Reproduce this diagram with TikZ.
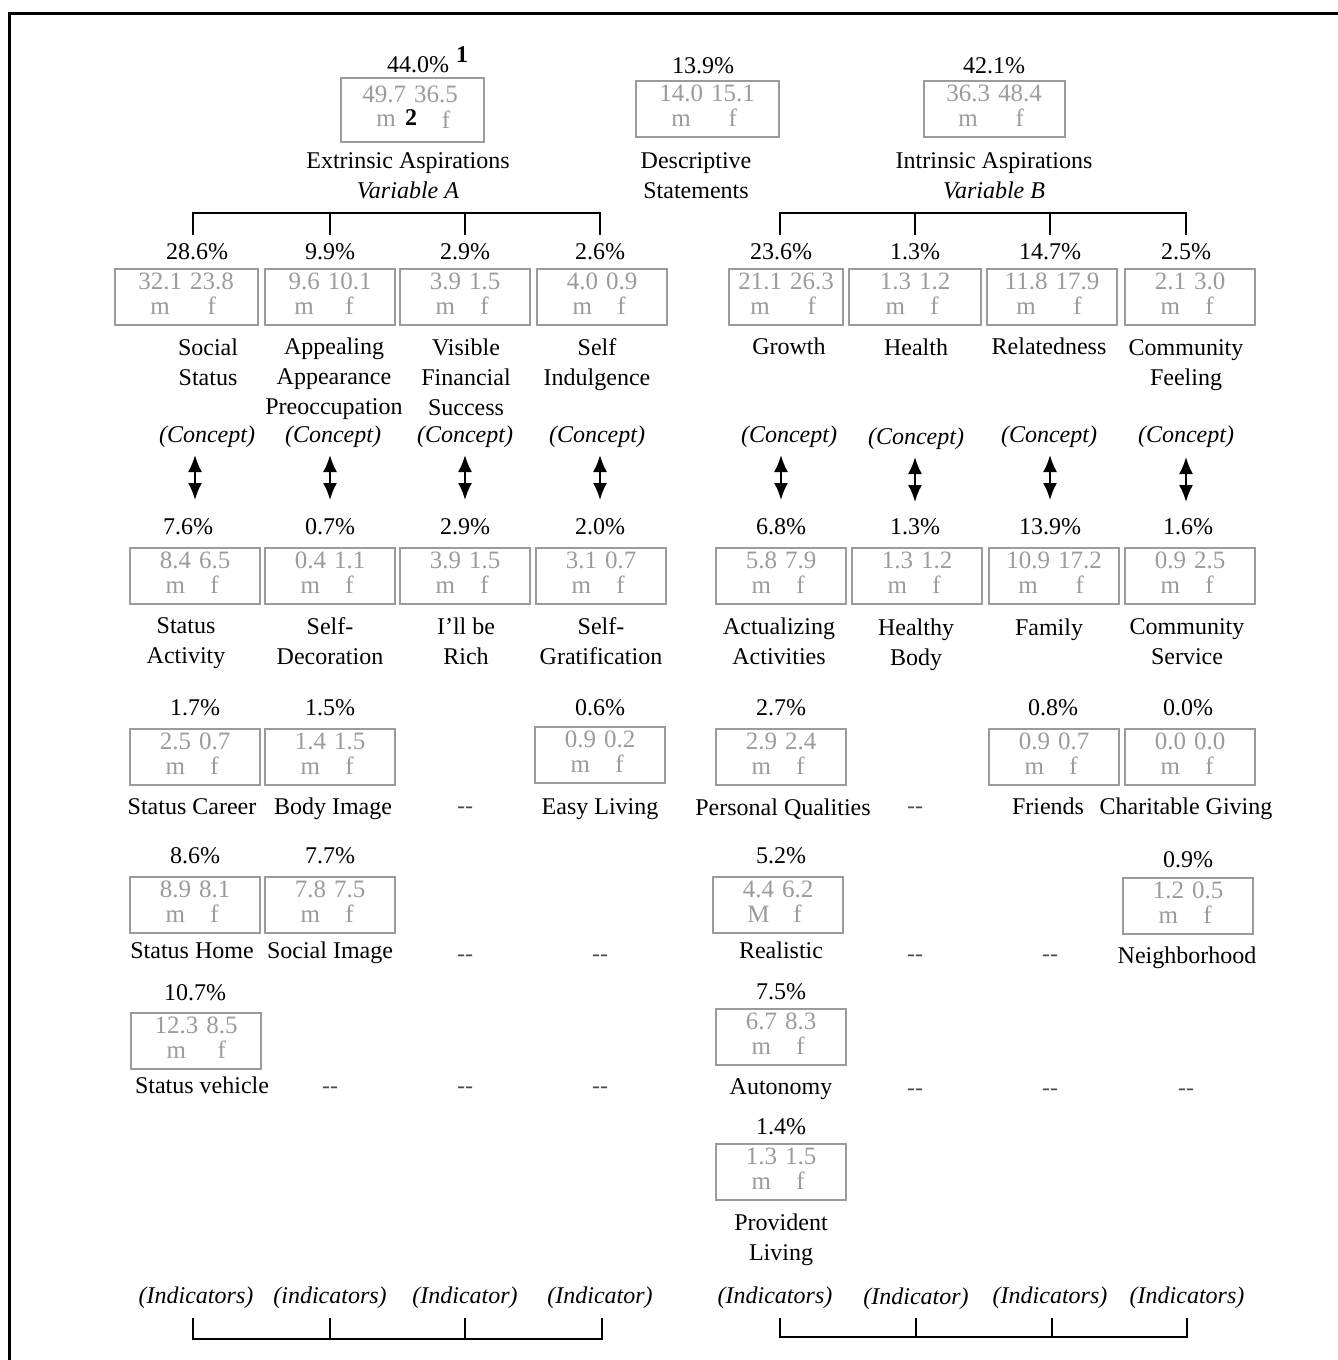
\documentclass[tikz,border=0pt]{standalone}
\usepackage{fontspec}
\setmainfont{Liberation Serif}
\usetikzlibrary{positioning, arrows.meta}
\definecolor{boxgray}{RGB}{155,155,155}
\newcommand{\mf}[3][m]{\begin{tabular}{@{}c@{\hspace{4pt}}c@{}}#2&#3\\#1&f\end{tabular}}
\renewcommand{\arraystretch}{0.8}

\begin{document}
\begin{tikzpicture}[
		x=0.5pt, y=-0.5pt,
		every node/.style={font=\fontsize{12}{15}\selectfont},
		mfbox/.style={draw=boxgray, line width=1pt, text=boxgray, font=\fontsize{12.5}{15}\selectfont, minimum width=65pt, minimum height=28pt, inner sep=0pt},
		widebox/.style={mfbox, minimum width=71.5pt},
		mftext/.style={text=boxgray, font=\fontsize{12.5}{15}\selectfont, inner sep=0pt},
		lbl/.style={align=center},
		one/.style={text height=8.5pt, text depth=2.5pt},
		cpt/.style={font=\fontsize{12}{15}\selectfont\itshape},
		nil/.style={text=black!70},
		fnote/.style={font=\fontsize{12}{15}\selectfont\bfseries, inner sep=0pt},
		dbl/.style={{Latex[width=7pt,length=8.5pt]}-{Latex[width=7pt,length=8.5pt]}, line width=1pt},
		brk/.style={line width=0.6pt},
	]
	\useasboundingbox (0,0) rectangle (1338,1360);
	\draw[line width=1.5pt] (9,1365) -- (9,13) -- (1345,13);

	% top level
	\node (extpct) at (418,65) {44.0\%};
	\node[fnote] (fn1) at (462,55) {1};
	\node[widebox, minimum height=32pt] (extbox) at (412,110) {};
	\node[mftext] (extnum) at (410,94) {49.7\hspace{4pt}36.5};
	\node[mftext] (extm) at (386,121) {m};
	\node[mftext] (extf) at (446,120) {f};
	\node[fnote] (fn2) at (411,118) {2};
	\node[lbl] (extlab) at (408,176) {Extrinsic Aspirations\\\textit{Variable A}};

	\node (despct) at (703,66) {13.9\%};
	\node[widebox] (desbox) at (707,109) {\mf{14.0}{15.1}};
	\node[lbl] (deslab) at (696,176) {Descriptive\\Statements};

	\node (intpct) at (994,66) {42.1\%};
	\node[widebox, minimum width=70.5pt] (intbox) at (994,109) {\mf{36.3}{48.4}};
	\node[lbl] (intlab) at (994,176) {Intrinsic Aspirations\\\textit{Variable B}};

	% brackets under the aspirations
	\coordinate (tA1) at (193,235);
	\coordinate (tA2) at (330,235);
	\coordinate (tA3) at (465,235);
	\coordinate (tA4) at (600,235);
	\draw[brk] (tA1) -- ++(0,-22) -| (tA4);
	\draw[brk] (tA2) -- ++(0,-22);
	\draw[brk] (tA3) -- ++(0,-22);
	\coordinate (tB1) at (780,235);
	\coordinate (tB2) at (915,235);
	\coordinate (tB3) at (1050,235);
	\coordinate (tB4) at (1186,235);
	\draw[brk] (tB1) -- ++(0,-22) -| (tB4);
	\draw[brk] (tB2) -- ++(0,-22);
	\draw[brk] (tB3) -- ++(0,-22);

	% concepts
	\node (sspct) at (197,252) {28.6\%};
	\node[widebox] (ssbox) at (186,297) {\mf{32.1}{23.8}};
	\node[lbl] (sslab) at (208,362) {Social\\Status};
	\node[cpt] (sscon) at (207,437) {(Concept)};

	\node (aapct) at (330,252) {9.9\%};
	\node[mfbox] (aabox) at (330,297) {\mf{9.6}{10.1}};
	\node[lbl] (aalab) at (334,379) {Appealing\\Appearance\\Preoccupation};
	\node[cpt] (aacon) at (333,437) {(Concept)};

	\node (vfpct) at (465,252) {2.9\%};
	\node[mfbox] (vfbox) at (465,297) {\mf{3.9}{1.5}};
	\node[lbl] (vflab) at (466,377) {Visible\\Financial\\Success};
	\node[cpt] (vfcon) at (465,437) {(Concept)};

	\node (sipct) at (600,252) {2.6\%};
	\node[mfbox] (sibox) at (602,297) {\mf{4.0}{0.9}};
	\node[lbl] (silab) at (597,365) {Self\\Indulgence};
	\node[cpt] (sicon) at (597,437) {(Concept)};

	\node (grpct) at (781,252) {23.6\%};
	\node[mfbox, minimum width=57pt] (grbox) at (786,297) {\mf{21.1}{26.3}};
	\node[one] (grlab) at (789,348) {Growth};
	\node[cpt] (grcon) at (789,437) {(Concept)};

	\node (hepct) at (915,252) {1.3\%};
	\node[mfbox, minimum width=66pt] (hebox) at (915,297) {\mf{1.3}{1.2}};
	\node[one] (helab) at (916,349) {Health};
	\node[cpt] (hecon) at (916,439) {(Concept)};

	\node (repct) at (1050,252) {14.7\%};
	\node[mfbox] (rebox) at (1052,297) {\mf{11.8}{17.9}};
	\node[one] (relab) at (1049,348) {Relatedness};
	\node[cpt] (recon) at (1049,437) {(Concept)};

	\node (cfpct) at (1186,252) {2.5\%};
	\node[mfbox] (cfbox) at (1190,297) {\mf{2.1}{3.0}};
	\node[lbl] (cflab) at (1186,365) {Community\\Feeling};
	\node[cpt] (cfcon) at (1186,437) {(Concept)};

	% concept <-> indicators
	\coordinate (ssa) at (195,455);  \coordinate (ssb) at (195,500);
	\coordinate (aaa) at (330,455);  \coordinate (aab) at (330,500);
	\coordinate (vfa) at (465,455);  \coordinate (vfb) at (465,500);
	\coordinate (sia) at (600,455);  \coordinate (sib) at (600,500);
	\coordinate (gra) at (781,455);  \coordinate (grb) at (781,500);
	\coordinate (hea) at (915,457);  \coordinate (heb) at (915,502);
	\coordinate (rea) at (1050,455); \coordinate (reb) at (1050,500);
	\coordinate (cfa) at (1186,457); \coordinate (cfb) at (1186,502);
	\draw[dbl] (ssa) -- (ssb);
	\draw[dbl] (aaa) -- (aab);
	\draw[dbl] (vfa) -- (vfb);
	\draw[dbl] (sia) -- (sib);
	\draw[dbl] (gra) -- (grb);
	\draw[dbl] (hea) -- (heb);
	\draw[dbl] (rea) -- (reb);
	\draw[dbl] (cfa) -- (cfb);

	% indicators, first row
	\node (sapct) at (188,527) {7.6\%};
	\node[mfbox] (sabox) at (195,576) {\mf{8.4}{6.5}};
	\node[lbl] (salab) at (186,643) {Status\\Activity};

	\node (sdpct) at (330,527) {0.7\%};
	\node[mfbox] (sdbox) at (330,576) {\mf{0.4}{1.1}};
	\node[lbl] (sdlab) at (330,641) {Self-\\Decoration};

	\node (irpct) at (465,527) {2.9\%};
	\node[mfbox] (irbox) at (465,576) {\mf{3.9}{1.5}};
	\node[lbl] (irlab) at (466,641) {I’ll be\\Rich};

	\node (sgpct) at (600,527) {2.0\%};
	\node[mfbox] (sgbox) at (601,576) {\mf{3.1}{0.7}};
	\node[lbl] (sglab) at (601,641) {Self-\\Gratification};

	\node (acpct) at (781,527) {6.8\%};
	\node[mfbox] (acbox) at (781,576) {\mf{5.8}{7.9}};
	\node[lbl] (aclab) at (779,641) {Actualizing\\Activities};

	\node (hbpct) at (915,527) {1.3\%};
	\node[mfbox] (hbbox) at (917,576) {\mf{1.3}{1.2}};
	\node[lbl] (hblab) at (916,645) {Healthy\\Body};

	\node (fapct) at (1050,527) {13.9\%};
	\node[mfbox] (fabox) at (1054,576) {\mf{10.9}{17.2}};
	\node[one] (falab) at (1049,629) {Family};

	\node (cspct) at (1188,527) {1.6\%};
	\node[mfbox] (csbox) at (1190,576) {\mf{0.9}{2.5}};
	\node[lbl] (cslab) at (1187,642) {Community\\Service};

	% second row
	\node (scpct) at (195,708) {1.7\%};
	\node[mfbox] (scbox) at (195,757) {\mf{2.5}{0.7}};
	\node[one] (sclab) at (192,808) {Status Career};

	\node (bipct) at (330,708) {1.5\%};
	\node[mfbox] (bibox) at (330,757) {\mf{1.4}{1.5}};
	\node[one] (bilab) at (333,808) {Body Image};

	\node[nil] (nil1) at (465,810) {-{}-};

	\node (elpct) at (600,708) {0.6\%};
	\node[mfbox] (elbox) at (600,755) {\mf{0.9}{0.2}};
	\node[one] (ellab) at (600,808) {Easy Living};

	\node (pqpct) at (781,708) {2.7\%};
	\node[mfbox] (pqbox) at (781,757) {\mf{2.9}{2.4}};
	\node[one] (pqlab) at (783,809) {Personal Qualities};

	\node[nil] (nil2) at (915,810) {-{}-};

	\node (frpct) at (1053,708) {0.8\%};
	\node[mfbox] (frbox) at (1054,757) {\mf{0.9}{0.7}};
	\node[one] (frlab) at (1048,808) {Friends};

	\node (cgpct) at (1188,708) {0.0\%};
	\node[mfbox] (cgbox) at (1190,757) {\mf{0.0}{0.0}};
	\node[one] (cglab) at (1186,808) {Charitable Giving};

	% third row
	\node (shpct) at (195,856) {8.6\%};
	\node[mfbox] (shbox) at (195,905) {\mf{8.9}{8.1}};
	\node[one] (shlab) at (192,952) {Status Home};

	\node (smpct) at (330,856) {7.7\%};
	\node[mfbox] (smbox) at (330,905) {\mf{7.8}{7.5}};
	\node[one] (smlab) at (330,952) {Social Image};

	\node[nil] (nil3) at (465,958) {-{}-};
	\node[nil] (nil4) at (600,958) {-{}-};

	\node (rlpct) at (781,856) {5.2\%};
	\node[mfbox] (rlbox) at (778,905) {\mf[M]{4.4}{6.2}};
	\node[one] (rllab) at (781,952) {Realistic};

	\node[nil] (nil5) at (915,958) {-{}-};
	\node[nil] (nil6) at (1050,958) {-{}-};

	\node (nbpct) at (1188,860) {0.9\%};
	\node[mfbox] (nbbox) at (1188,906) {\mf{1.2}{0.5}};
	\node[one] (nblab) at (1187,957) {Neighborhood};

	% fourth row
	\node (svpct) at (195,993) {10.7\%};
	\node[mfbox] (svbox) at (196,1041) {\mf{12.3}{8.5}};
	\node[one] (svlab) at (202,1087) {Status vehicle};

	\node[nil] (nil7) at (330,1090) {-{}-};
	\node[nil] (nil8) at (465,1090) {-{}-};
	\node[nil] (nil9) at (600,1090) {-{}-};

	\node (aupct) at (781,992) {7.5\%};
	\node[mfbox] (aubox) at (781,1037) {\mf{6.7}{8.3}};
	\node[one] (aulab) at (781,1088) {Autonomy};

	\node[nil] (nil10) at (915,1092) {-{}-};
	\node[nil] (nil11) at (1050,1092) {-{}-};
	\node[nil] (nil12) at (1186,1092) {-{}-};

	% fifth row
	\node (plpct) at (781,1127) {1.4\%};
	\node[mfbox] (plbox) at (781,1172) {\mf{1.3}{1.5}};
	\node[lbl] (pllab) at (781,1240) {Provident\\Living};

	% indicator labels and brackets
	\node[cpt] (indA1) at (196,1298) {(Indicators)};
	\node[cpt] (indA2) at (330,1298) {(indicators)};
	\node[cpt] (indA3) at (465,1298) {(Indicator)};
	\node[cpt] (indA4) at (600,1298) {(Indicator)};
	\node[cpt] (indB1) at (775,1298) {(Indicators)};
	\node[cpt] (indB2) at (916,1299) {(Indicator)};
	\node[cpt] (indB3) at (1050,1298) {(Indicators)};
	\node[cpt] (indB4) at (1187,1298) {(Indicators)};

	\coordinate (bA1) at (193,1318);
	\coordinate (bA2) at (330,1318);
	\coordinate (bA3) at (465,1318);
	\coordinate (bA4) at (602,1318);
	\draw[brk] (bA1) -- ++(0,21) -| (bA4);
	\draw[brk] (bA2) -- ++(0,21);
	\draw[brk] (bA3) -- ++(0,21);
	\coordinate (bB1) at (780,1318);
	\coordinate (bB2) at (916,1318);
	\coordinate (bB3) at (1052,1318);
	\coordinate (bB4) at (1187,1318);
	\draw[brk] (bB1) -- ++(0,19) -| (bB4);
	\draw[brk] (bB2) -- ++(0,19);
	\draw[brk] (bB3) -- ++(0,19);
\end{tikzpicture}
\end{document}
